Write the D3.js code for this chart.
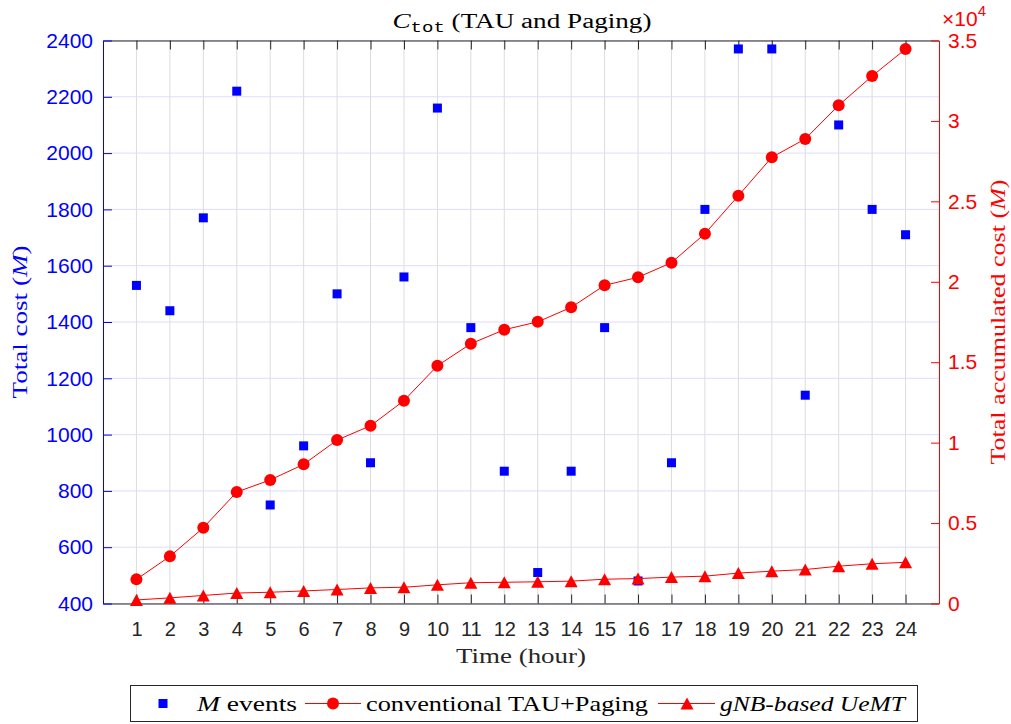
<!DOCTYPE html>
<html>
<head>
<meta charset="utf-8">
<script src="https://cdn.jsdelivr.net/npm/d3@7"></script>
<style>
  html, body { margin: 0; padding: 0; background: #fff; }
  svg { display: block; }
</style>
</head>
<body>
<svg id="chart" width="1011" height="724"></svg>
<script>
// Hourly values
const hours = [1, 2, 3, 4, 5, 6, 7, 8, 9, 10, 11, 12, 13, 14, 15, 16, 17, 18, 19, 20, 21, 22, 23, 24];
const mEvents = [1530, 1440, 1770, 2220, 750, 960, 1500, 900, 1560, 2160, 1380, 870,
                 510, 870, 1380, 480, 900, 1800, 2370, 2370, 1140, 2100, 1800, 1710];
const conventional = [1500, 2930, 4710, 6930, 7680, 8650, 10160, 11050, 12610, 14780, 16150, 17020,
                      17510, 18410, 19780, 20280, 21190, 22990, 25350, 27740, 28880, 30970, 32790, 34470];
const gnbBased = [220, 350, 500, 650, 700, 780, 870, 970, 1010, 1160, 1290, 1320,
                  1350, 1390, 1510, 1550, 1640, 1700, 1890, 2010, 2110, 2320, 2470, 2560];

// Axis ticks
const leftTicks = [400, 600, 800, 1000, 1200, 1400, 1600, 1800, 2000, 2200, 2400];
const rightTicks = [0, 5000, 10000, 15000, 20000, 25000, 30000, 35000];
const rightTickLabels = ["0", "0.5", "1", "1.5", "2", "2.5", "3", "3.5"];

const BLUE = "#0000ff", RED = "#ff0000", DARK = "#262626";
const SANS = '"Liberation Sans", Arial, sans-serif';
const SERIF = '"Liberation Serif", "Times New Roman", serif';
const MONO = '"Liberation Mono", "Courier New", monospace';

const svg = d3.select("#chart");
const L = 103, R = 939, T = 40.5, B = 603.5;

const x = d3.scaleLinear().domain([0, 25]).range([L, R]);
const yL = d3.scaleLinear().domain([400, 2400]).range([B, T]);
const yR = d3.scaleLinear().domain([0, 35000]).range([B, T]);

function font(sel, family, size, style) {
  sel.style("font-family", family).style("font-size", size + "px");
  if (style) sel.style("font-style", style);
  return sel;
}

// Grid
const grid = svg.append("g");
grid.selectAll("line.vg").data(hours).join("line")
  .attr("x1", d => x(d)).attr("x2", d => x(d))
  .attr("y1", T).attr("y2", B)
  .attr("stroke", "#dcdcdc").attr("stroke-width", 1);
grid.selectAll("line.hg").data(leftTicks).join("line")
  .attr("x1", L).attr("x2", R)
  .attr("y1", d => yL(d)).attr("y2", d => yL(d))
  .attr("stroke", "#dcdcff").attr("stroke-width", 1);

// Axes
const xAxisBottom = d3.axisBottom(x).tickValues(hours).tickSize(-9).tickSizeOuter(0).tickPadding(18);
const xAxisTop = d3.axisTop(x).tickValues(hours).tickSize(-9).tickSizeOuter(0).tickFormat("");
const leftAxis = d3.axisLeft(yL).tickValues(leftTicks).tickSize(-9).tickSizeOuter(0).tickPadding(10)
  .tickFormat(d3.format("d"));
const rightAxis = d3.axisRight(yR).tickValues(rightTicks).tickSize(-8).tickSizeOuter(0).tickPadding(9)
  .tickFormat((d, i) => rightTickLabels[i]);

function styleAxis(g, color, size) {
  g.select(".domain").attr("stroke", color);
  g.selectAll(".tick line").attr("stroke", color);
  font(g.selectAll(".tick text").attr("fill", color), SANS, size);
}

const gxb = svg.append("g").attr("transform", `translate(0,${B})`).call(xAxisBottom);
styleAxis(gxb, DARK, 20);

const gxt = svg.append("g").attr("transform", `translate(0,${T})`).call(xAxisTop);
styleAxis(gxt, DARK, 20);

const gl = svg.append("g").attr("transform", `translate(${L},0)`).call(leftAxis);
styleAxis(gl, BLUE, 21);

const gr = svg.append("g").attr("transform", `translate(${R},0)`).call(rightAxis);
styleAxis(gr, RED, 21);

// Exponent of the right axis
const expo = font(svg.append("text").attr("x", 942).attr("y", 26).attr("fill", RED), SANS, 21);
expo.append("tspan").text("\u00d710");
font(expo.append("tspan").attr("dy", -10), SANS, 15).text("4");

// M events (left axis)
const sq = 9;
svg.append("g").selectAll("rect").data(hours).join("rect")
  .attr("x", (d, i) => x(d) - sq / 2).attr("y", (d, i) => yL(mEvents[i]) - sq / 2)
  .attr("width", sq).attr("height", sq).attr("fill", BLUE);

// Accumulated costs (right axis)
const line = d3.line().x((d, i) => x(hours[i])).y(d => yR(d));
svg.append("path").datum(conventional).attr("d", line)
  .attr("fill", "none").attr("stroke", RED).attr("stroke-width", 1);
svg.append("path").datum(gnbBased).attr("d", line)
  .attr("fill", "none").attr("stroke", RED).attr("stroke-width", 1);

svg.append("g").selectAll("circle").data(conventional).join("circle")
  .attr("cx", (d, i) => x(hours[i])).attr("cy", d => yR(d)).attr("r", 6).attr("fill", RED);

const tri = "M0,-6L6.5,6L-6.5,6Z";
svg.append("g").selectAll("path").data(gnbBased).join("path")
  .attr("d", tri)
  .attr("transform", (d, i) => `translate(${x(hours[i])},${yR(d)})`)
  .attr("fill", RED);

// Title
const title = font(svg.append("text").attr("x", 522).attr("y", 28)
  .attr("text-anchor", "middle").attr("fill", "#000")
  .attr("textLength", 259).attr("lengthAdjust", "spacingAndGlyphs"), SERIF, 20);
font(title.append("tspan"), SERIF, 20, "italic").text("C");
font(title.append("tspan").attr("dy", 4), MONO, 14).text("tot");
title.append("tspan").attr("dy", -4).text(" (TAU and Paging)");

// Axis labels
font(svg.append("text").attr("x", 521).attr("y", 663).attr("text-anchor", "middle")
  .attr("fill", DARK)
  .attr("textLength", 130).attr("lengthAdjust", "spacingAndGlyphs"), SERIF, 22)
  .text("Time (hour)");

const ylab = font(svg.append("text").attr("transform", "translate(27,322) rotate(-90)")
  .attr("text-anchor", "middle").attr("fill", BLUE)
  .attr("textLength", 153).attr("lengthAdjust", "spacingAndGlyphs"), SERIF, 22);
ylab.append("tspan").text("Total cost (");
font(ylab.append("tspan"), SERIF, 22, "italic").text("M");
ylab.append("tspan").text(")");

const yrlab = font(svg.append("text").attr("transform", "translate(1005,322) rotate(-90)")
  .attr("text-anchor", "middle").attr("fill", RED)
  .attr("textLength", 285).attr("lengthAdjust", "spacingAndGlyphs"), SERIF, 22);
yrlab.append("tspan").text("Total accumulated cost (");
font(yrlab.append("tspan"), SERIF, 22, "italic").text("M");
yrlab.append("tspan").text(")");

// Legend
const lg = svg.append("g");
lg.append("rect").attr("x", 130.5).attr("y", 685.5).attr("width", 787).attr("height", 36)
  .attr("fill", "#fff").attr("stroke", DARK).attr("stroke-width", 1);
const ly = 703.5;
lg.append("rect").attr("x", 163 - sq / 2).attr("y", ly - sq / 2).attr("width", sq).attr("height", sq).attr("fill", BLUE);
const t1 = font(lg.append("text").attr("x", 197).attr("y", ly + 7).attr("fill", "#000")
  .attr("textLength", 100).attr("lengthAdjust", "spacingAndGlyphs"), SERIF, 22);
font(t1.append("tspan"), SERIF, 22, "italic").text("M");
t1.append("tspan").text(" events");

lg.append("line").attr("x1", 305).attr("x2", 361).attr("y1", ly).attr("y2", ly).attr("stroke", RED);
lg.append("circle").attr("cx", 333).attr("cy", ly).attr("r", 6).attr("fill", RED);
font(lg.append("text").attr("x", 366).attr("y", ly + 7).attr("fill", "#000")
  .attr("textLength", 282).attr("lengthAdjust", "spacingAndGlyphs"), SERIF, 22)
  .text("conventional TAU+Paging");

lg.append("line").attr("x1", 658).attr("x2", 715).attr("y1", ly).attr("y2", ly).attr("stroke", RED);
lg.append("path").attr("d", tri).attr("transform", `translate(687,${ly})`).attr("fill", RED);
font(lg.append("text").attr("x", 720).attr("y", ly + 7).attr("fill", "#000")
  .attr("textLength", 185).attr("lengthAdjust", "spacingAndGlyphs"), SERIF, 22, "italic")
  .text("gNB-based UeMT");
</script>
</body>
</html>
